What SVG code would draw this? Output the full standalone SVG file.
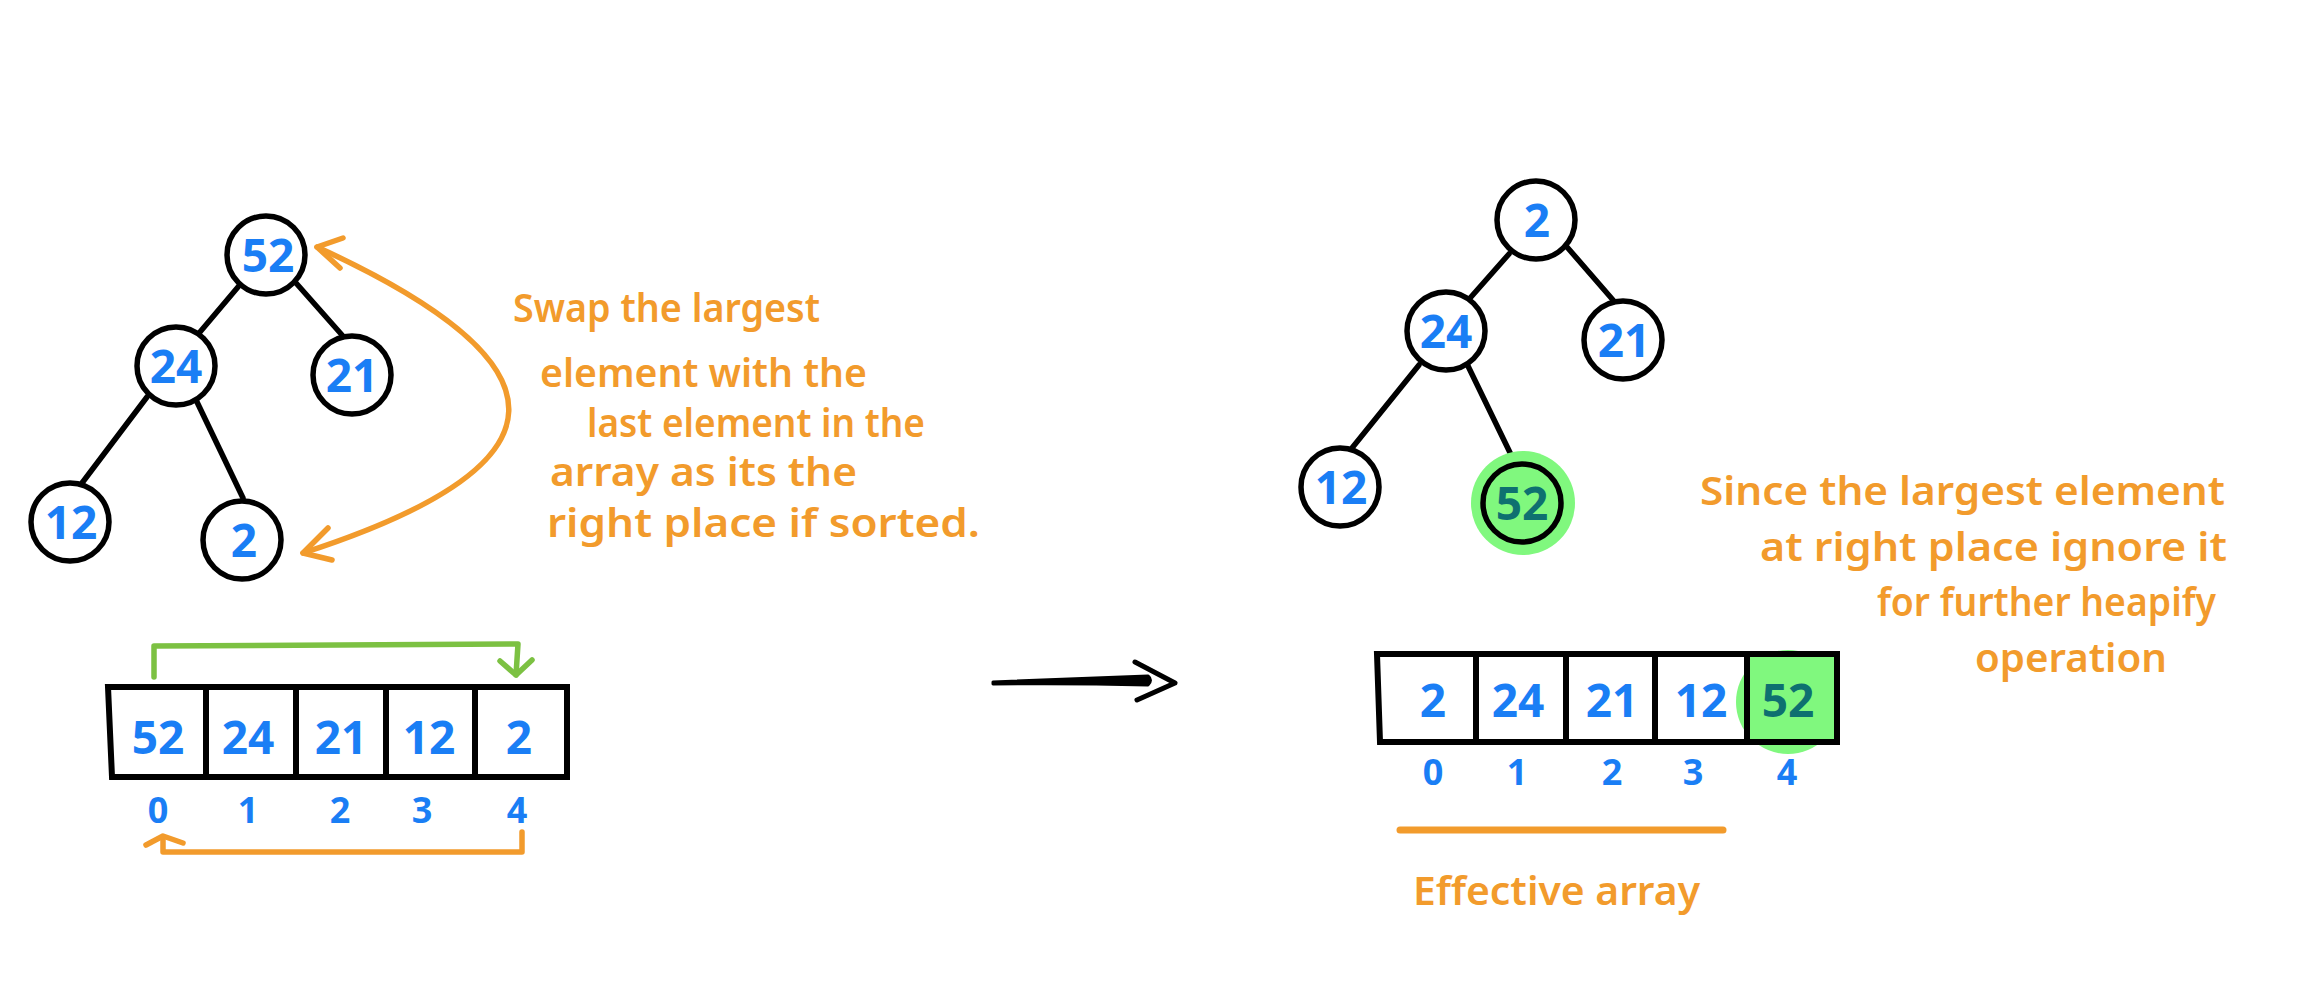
<svg xmlns="http://www.w3.org/2000/svg" width="2320" height="1000" viewBox="0 0 2320 1000">
<style>
.bg{fill:#ffffff}
.node circle{fill:#ffffff;stroke:#000;stroke-width:5.5}
.node circle.halo{fill:#80f87e;stroke:none}
.node circle.hot{fill:#80f87e}
.edge{stroke:#000;stroke-width:5.5;stroke-linecap:round;fill:none}
.num{font-family:"Noto Sans","Liberation Sans",sans-serif;font-weight:700;fill:#1a7ef5;text-anchor:middle}
.big{font-size:46px}
.idx{font-size:36px}
.note{font-family:"Noto Sans","Liberation Sans",sans-serif;font-weight:600;font-size:40px;fill:#f29b2c}
.cell{fill:none;stroke:#000;stroke-width:6;stroke-linejoin:miter}
.div{stroke:#000;stroke-width:6}
.orange{stroke:#f29b2c;stroke-width:5.5;fill:none;stroke-linecap:round;stroke-linejoin:round}
.green{stroke:#7cc142;stroke-width:5.5;fill:none;stroke-linecap:round;stroke-linejoin:round}
.halo{fill:#80f87e}
.num.teal{fill:#0e7070}
</style>
<rect class="bg" x="0" y="0" width="2320" height="1000"/>

<g id="connectors">
  <!-- left tree edges -->
  <line class="edge" x1="238" y1="287" x2="200" y2="332"/>
  <line class="edge" x1="296" y1="283" x2="342" y2="335"/>
  <line class="edge" x1="147" y1="397" x2="82" y2="483"/>
  <line class="edge" x1="197" y1="402" x2="243" y2="498"/>
  <!-- right tree edges -->
  <line class="edge" x1="1509" y1="254" x2="1471" y2="297"/>
  <line class="edge" x1="1567" y1="247" x2="1613" y2="300"/>
  <line class="edge" x1="1419" y1="365" x2="1352" y2="448"/>
  <line class="edge" x1="1468" y1="366" x2="1516" y2="465"/>
  <!-- curved swap arrow -->
  <path class="orange" d="M317,247 C575,365 575,465 303,553"/>
  <path class="orange" d="M343,238 L317,247 L340,268"/>
  <path class="orange" d="M328,528 L303,553 L332,560"/>
  <!-- green array arrow -->
  <path class="green" d="M154,677 L154,646 L518,644 L516,675"/>
  <path class="green" d="M500,661 L516,675 L532,660"/>
  <!-- orange array arrow -->
  <path class="orange" d="M522,832 L522,852 L163,852 L163,838"/>
  <path class="orange" d="M146,845 L163,836 L183,843"/>
  <!-- main arrow -->
  <path d="M993,682 Q1070,679 1148,676 Q1153,680 1148,685 Q1070,683 993,684 Z" fill="#000" stroke="#000" stroke-width="3" stroke-linejoin="round"/>
  <path d="M1135,662 L1175,683 L1137,700" fill="none" stroke="#000" stroke-width="5" stroke-linecap="round" stroke-linejoin="round"/>
  <!-- effective array underline -->
  <line x1="1400" y1="830" x2="1723" y2="830" stroke="#f29b2c" stroke-width="7" stroke-linecap="round"/>
</g>

<!-- Left tree nodes -->
<g id="L52" class="node"><circle cx="266" cy="255" r="39"/><text class="num big" x="268" y="272">52</text></g>
<g id="L24" class="node"><circle cx="176" cy="366" r="39"/><text class="num big" x="176" y="383">24</text></g>
<g id="L21" class="node"><circle cx="352" cy="375" r="39"/><text class="num big" x="352" y="392">21</text></g>
<g id="L12" class="node"><circle cx="70" cy="522" r="39"/><text class="num big" x="71" y="539">12</text></g>
<g id="L2" class="node"><circle cx="242" cy="540" r="39"/><text class="num big" x="244" y="557">2</text></g>

<!-- Left note -->
<g id="note-left">
  <text class="note" x="513" y="322" textLength="307" lengthAdjust="spacingAndGlyphs">Swap the largest</text>
  <text class="note" x="540" y="387" textLength="327" lengthAdjust="spacingAndGlyphs">element with the</text>
  <text class="note" x="587" y="437" textLength="338" lengthAdjust="spacingAndGlyphs">last element in the</text>
  <text class="note" x="550" y="486" textLength="307" lengthAdjust="spacingAndGlyphs">array as its the</text>
  <text class="note" x="547" y="537" textLength="433" lengthAdjust="spacingAndGlyphs">right place if sorted.</text>
</g>

<!-- Left array -->
<g id="array-left">
  <path class="cell" d="M108,687 L567,687 L567,777 L112,777 Z"/>
  <line class="div" x1="206" y1="687" x2="206" y2="777"/>
  <line class="div" x1="296" y1="687" x2="296" y2="777"/>
  <line class="div" x1="386" y1="687" x2="386" y2="777"/>
  <line class="div" x1="475" y1="687" x2="475" y2="777"/>
  <text class="num big" x="158" y="754">52</text>
  <text class="num big" x="248" y="754">24</text>
  <text class="num big" x="341" y="754">21</text>
  <text class="num big" x="429" y="754">12</text>
  <text class="num big" x="519" y="754">2</text>
  <text class="num idx" x="158" y="823">0</text>
  <text class="num idx" x="248" y="823">1</text>
  <text class="num idx" x="340" y="823">2</text>
  <text class="num idx" x="422" y="823">3</text>
  <text class="num idx" x="517" y="823">4</text>
</g>

<!-- Right tree nodes -->
<g id="R2" class="node"><circle cx="1536" cy="220" r="39"/><text class="num big" x="1537" y="237">2</text></g>
<g id="R24" class="node"><circle cx="1446" cy="331" r="39"/><text class="num big" x="1446" y="348">24</text></g>
<g id="R21" class="node"><circle cx="1623" cy="340" r="39"/><text class="num big" x="1624" y="357">21</text></g>
<g id="R12" class="node"><circle cx="1340" cy="487" r="39"/><text class="num big" x="1341" y="504">12</text></g>
<g id="R52" class="node"><circle class="halo" cx="1523" cy="503" r="52"/><circle class="hot" cx="1522" cy="503" r="39"/><text class="num big teal" x="1522" y="520">52</text></g>

<!-- Right note -->
<g id="note-right">
  <text class="note" x="1700" y="505" textLength="525" lengthAdjust="spacingAndGlyphs">Since the largest element</text>
  <text class="note" x="1760" y="561" textLength="467" lengthAdjust="spacingAndGlyphs">at right place ignore it</text>
  <text class="note" x="1877" y="616" textLength="339" lengthAdjust="spacingAndGlyphs">for further heapify</text>
  <text class="note" x="1975" y="672" textLength="192" lengthAdjust="spacingAndGlyphs">operation</text>
</g>

<!-- Right array -->
<g id="array-right">
  <circle class="halo" cx="1788" cy="702" r="52"/>
  <rect class="halo" x="1747" y="654" width="90" height="88"/>
  <path class="cell" d="M1377,654 L1837,654 L1837,742 L1380,742 Z"/>
  <line class="div" x1="1476" y1="654" x2="1476" y2="742"/>
  <line class="div" x1="1566" y1="654" x2="1566" y2="742"/>
  <line class="div" x1="1655" y1="654" x2="1655" y2="742"/>
  <line class="div" x1="1747" y1="654" x2="1747" y2="742"/>
  <text class="num big" x="1433" y="717">2</text>
  <text class="num big" x="1518" y="717">24</text>
  <text class="num big" x="1612" y="717">21</text>
  <text class="num big" x="1701" y="717">12</text>
  <text class="num big teal" x="1788" y="717">52</text>
  <text class="num idx" x="1433" y="785">0</text>
  <text class="num idx" x="1517" y="785">1</text>
  <text class="num idx" x="1612" y="785">2</text>
  <text class="num idx" x="1693" y="785">3</text>
  <text class="num idx" x="1787" y="785">4</text>
</g>

<g id="label-effective">
  <text class="note" x="1413" y="905" textLength="287" lengthAdjust="spacingAndGlyphs">Effective array</text>
</g>
</svg>
